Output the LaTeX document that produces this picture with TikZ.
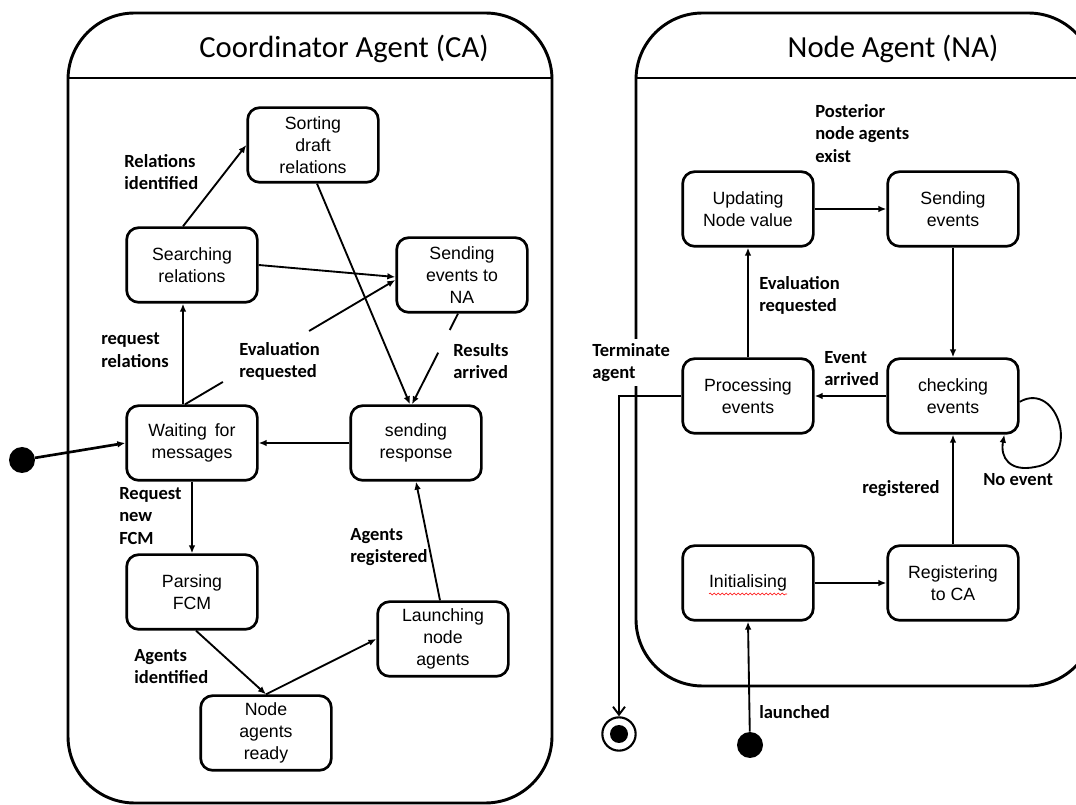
\documentclass[tikz,border=0pt]{standalone}
\usepackage{fontspec}
\setmainfont{Liberation Sans}
\newfontfamily\calibri{Carlito}
\usetikzlibrary{arrows.meta,calc,decorations.pathmorphing}

\begin{document}
\begin{tikzpicture}[x=0.75pt, y=-0.75pt,
	state/.style={draw=black, line width=2pt, rounded corners=9pt, minimum width=98pt, minimum height=56pt, inner sep=2pt, align=center, font=\fontsize{13.3}{16.5}\selectfont},
	lbl/.style={anchor=north west, inner sep=0pt, align=left, font=\calibri\bfseries\fontsize{13.9}{17}\selectfont},
	panel/.style={draw=black, line width=2.2pt, rounded corners=50pt},
	title/.style={font=\calibri\fontsize{23}{27}\selectfont},
	trans/.style={line width=1.4pt, -{Latex[length=6pt,width=5pt]}}]
	\clip (0,0) rectangle (1076,805);

	\draw[panel] (68,803) rectangle (552,13);
	\draw[line width=2.2pt] (68,78) -- (552,78);
	\node[title] (catitle) at (344,49) {Coordinator Agent (CA)};
	\draw[panel] (636,686) rectangle (1095,13);
	\draw[line width=2.2pt] (636,78) -- (1095,78);
	\node[title] (natitle) at (893,49) {Node Agent (NA)};

	\node[state] (sort) at (313,145) {Sorting\\draft\\relations};
	\node[state] (search) at (192,265) {Searching\\relations};
	\node[state] (sendna) at (462,275) {Sending\\events to\\NA};
	\node[state] (wait) at (192,443) {Waiting\, for\\messages};
	\node[state] (resp) at (416,443) {sending\\response};
	\node[state] (parse) at (192,592) {Parsing\\FCM};
	\node[state] (launch) at (443,639) {Launching\\node\\agents};
	\node[state] (ready) at (266,733) {Node\\agents\\ready};
	\node[circle, fill=black, inner sep=0pt, minimum size=19.5pt] (cainit) at (22,460) {};

	\draw[line width=2pt, -{Latex[length=6pt,width=5pt]}] (cainit) -- (wait.west);
	\draw[trans] ($(search.north)+(-9,0)$) -- (sort.west);
	\draw[trans] (search.east) -- ($(sendna.west)+(0,2)$);
	\draw[trans] ($(sort.south)+(4,0)$) -- ($(resp.north)+(-6,0)$);
	\coordinate (ra) at ($(sendna.south)+(-4,0)$);
	\coordinate (rb) at ($(resp.north)+(-4,0)$);
	\draw[line width=1.4pt] (ra) -- ($(ra)!0.18!(rb)$);
	\draw[trans] ($(ra)!0.43!(rb)$) -- (rb);
	\draw[trans] ($(wait.north)+(-9,0)$) -- ($(search.south)+(-9,0)$);
	\coordinate (ea) at ($(wait.north)+(-7,0)$);
	\coordinate (eb) at ($(sendna.west)+(0,5)$);
	\draw[line width=1.4pt] (ea) -- ($(ea)!0.18!(eb)$);
	\draw[trans] ($(ea)!0.59!(eb)$) -- (eb);
	\draw[trans] (resp.west) -- (wait.east);
	\draw[trans] (wait.south) -- (parse.north);
	\draw[trans] ($(parse.south)+(4,0)$) -- (ready.north);
	\draw[trans] (ready.north) -- (launch.west);
	\draw[trans] ($(launch.north)+(-3,0)$) -- (resp.south);

	\node[lbl] (lrelid) at (124,154) {Relations\\identified};
	\node[lbl] (lreqrel) at (101,333) {request\\relations};
	\node[lbl] (levalca) at (239,342) {Evaluation\\requested};
	\node[lbl] (lresults) at (453,343) {Results\\arrived};
	\node[lbl] (lreqfcm) at (119,487) {Request\\new\\FCM};
	\node[lbl] (lagreg) at (350,528) {Agents\\registered};
	\node[lbl] (lagid) at (134,649) {Agents\\identified};

	\node[state] (update) at (748,209) {Updating\\Node value};
	\node[state] (sendev) at (953,209) {Sending\\events};
	\node[state] (proc) at (748,396) {Processing\\events};
	\node[state] (check) at (953,396) {checking\\events};
	\node[state] (initl) at (748,583) {Initialising};
	\node[state] (reg) at (953,583) {Registering\\to CA};
	\node[circle, fill=black, inner sep=0pt, minimum size=19.5pt] (nainit) at (750,745) {};
	\node[circle, draw=black, line width=1.6pt, inner sep=0pt, minimum size=25pt] (fin) at (619,734) {};
	\fill (fin.center) circle (9);
	\draw[red, decorate, decoration={snake, amplitude=0.7pt, segment length=3pt}] (709,594) -- (787,594);

	\draw[trans] (update.east) -- (sendev.west);
	\draw[trans] (sendev.south) -- (check.north);
	\draw[trans] (check.west) -- (proc.east);
	\draw[trans] (proc.north) -- (update.south);
	\draw[trans] (initl.east) -- (reg.west);
	\draw[trans] (reg.north) -- (check.south);
	\draw[trans] (check.-5) .. controls (1058,380) and (1082,460) .. (1035,467) .. controls (1010,472) and (1000,458) .. (check.-37);
	\draw[trans] (nainit) -- (initl.south);
	\draw[line width=1.4pt, -{Straight Barb[length=6pt,width=9pt]}] (proc.west) -| (fin.north);

	\node[lbl] (lposterior) at (815,104) {Posterior\\node agents\\exist};
	\node[lbl] (levalna) at (759,276) {Evaluation\\requested};
	\node[lbl, fill=white, inner sep=3pt] (lterm) at (588,339) {Terminate\\agent};
	\node[lbl] (larrived) at (824,351) {Event\\arrived};
	\node[lbl] (lreg) at (862,480) {registered};
	\node[lbl] (lnoevent) at (983,473) {No event};
	\node[lbl] (llaunched) at (759,705) {launched};
\end{tikzpicture}
\end{document}
